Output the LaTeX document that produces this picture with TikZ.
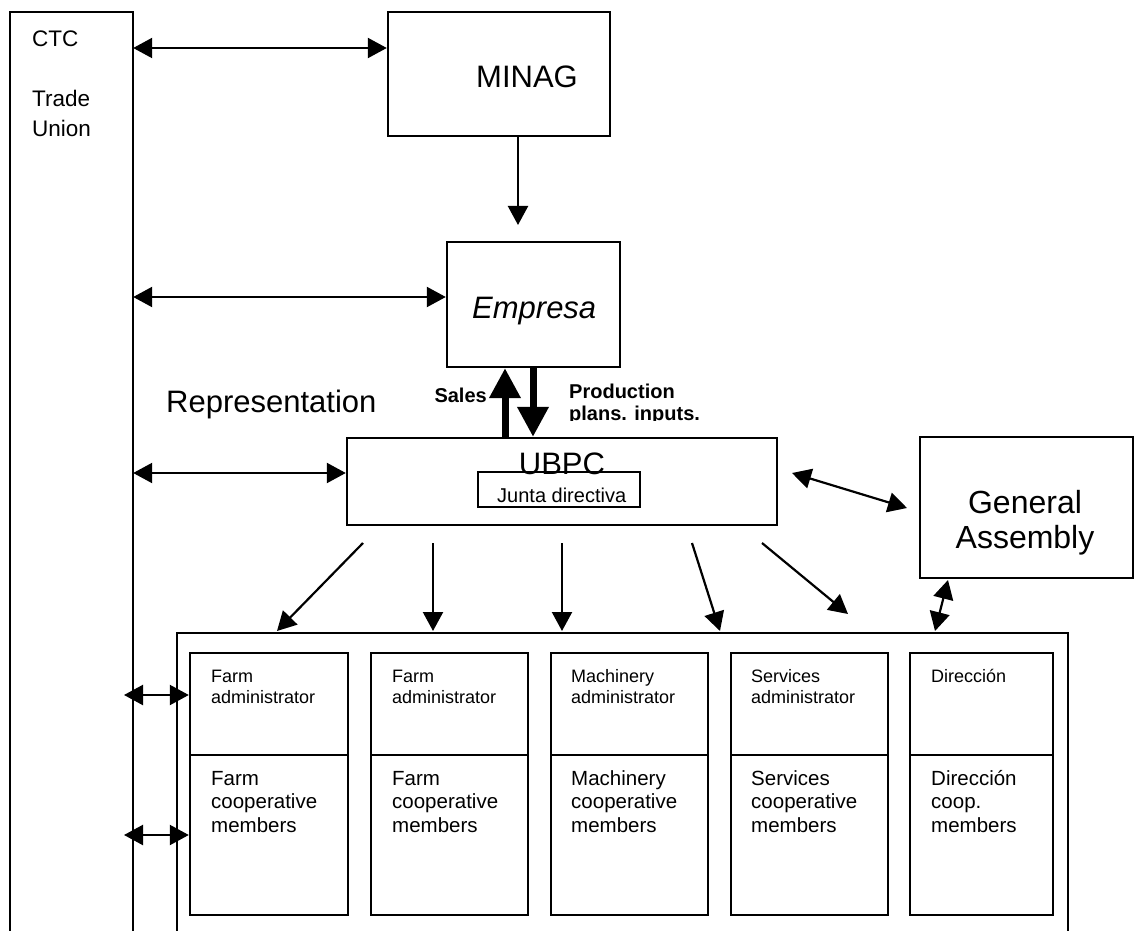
\documentclass[tikz,border=0pt]{standalone}
\usepackage{fontspec}
\setmainfont{Liberation Sans}
\usetikzlibrary{arrows.meta,fit}
\begin{document}
\begin{tikzpicture}[x=1pt,y=-1pt,
  box/.style={draw,line width=2.4pt,inner sep=0pt},
  frame/.style={line width=2.4pt},
  conn/.style={line width=2.2pt,-{Triangle[length=19pt,width=20pt]}},
  bi/.style={line width=2.2pt,{Triangle[length=19pt,width=20pt]}-{Triangle[length=19pt,width=20pt]}},
  heavy/.style={line width=7pt,-{Triangle[length=30pt,width=30pt]}},
  big/.style={font=\fontsize{31}{36}\selectfont,inner sep=0pt,anchor=base west},
  mid/.style={font=\fontsize{22.5}{30}\selectfont,inner sep=0pt,anchor=base west,align=left},
  lbl/.style={font=\fontsize{20}{22}\bfseries\selectfont,inner sep=0pt,align=left},
  small/.style={font=\fontsize{18}{21}\selectfont,inner sep=0pt,anchor=base west,align=left},
  memb/.style={font=\fontsize{20.5}{23.5}\selectfont,inner sep=0pt,anchor=base west,align=left}
]
\useasboundingbox (0,0) rectangle (1136,931);

% CTC column (open at the bottom)
\node[inner sep=0pt,fit={(10,12)(133,945)}] (ctc) {};
\draw[frame] (ctc.south west) -- (ctc.north west) -- (ctc.north east) -- (ctc.south east);
\node[mid] (ctct) at (32,47) {CTC};
\node[mid] (tu) at (32,137) {Trade\\Union};

% boxes
\node[box,fit={(388,12)(610,136)}] (minag) {};
\node[big] (minagt) at (476,88) {MINAG};
\node[box,fit={(447,242)(620,367)}] (empresa) {};
\node[big,font=\fontsize{31}{36}\selectfont\itshape] (empt) at (472,318) {Empresa};
\node[box,fit={(347,438)(777,525)}] (ubpc) {};
\node[font=\fontsize{31}{36}\selectfont,inner sep=0pt,anchor=base] (ubpct) at (562,474) {UBPC};
\node[box,fit={(478,472)(640,507)}] (junta) {};
\node[font=\fontsize{20}{22}\selectfont,inner sep=0pt,anchor=base west] (juntat) at (497,502) {Junta directiva};
\node[box,fit={(920,437)(1133,578)}] (ga) {};
\node[font=\fontsize{32}{35}\selectfont,inner sep=0pt,anchor=base,align=center] (gat) at (1025,548) {General\\Assembly};

\node[big] (rep) at (166,412) {Representation};
\node[lbl,anchor=base east] (sales) at (487,402) {Sales};
\begin{scope}
\clip (560,370) rectangle (760,420);
\node[lbl,anchor=base west] (prod) at (569,420) {Production\\plans. inputs.};
\end{scope}

% outer frame of the units (open at the bottom)
\node[inner sep=0pt,fit={(177,633)(1068,945)}] (units) {};
\draw[frame] (units.south west) -- (units.north west) -- (units.north east) -- (units.south east);

% unit boxes
\node[box,fit={(190,653)(348,755)}] (a1) {};
\node[box,fit={(190,755)(348,915)}] (m1) {};
\node[box,fit={(371,653)(528,755)}] (a2) {};
\node[box,fit={(371,755)(528,915)}] (m2) {};
\node[box,fit={(551,653)(708,755)}] (a3) {};
\node[box,fit={(551,755)(708,915)}] (m3) {};
\node[box,fit={(731,653)(888,755)}] (a4) {};
\node[box,fit={(731,755)(888,915)}] (m4) {};
\node[box,fit={(910,653)(1053,755)}] (a5) {};
\node[box,fit={(910,755)(1053,915)}] (m5) {};

\node[small] (a1t) at (211,703) {Farm\\administrator};
\node[small] (a2t) at (392,703) {Farm\\administrator};
\node[small] (a3t) at (571,703) {Machinery\\administrator};
\node[small] (a4t) at (751,703) {Services\\administrator};
\node[small] (a5t) at (931,682) {Dirección};
\node[memb] (m1t) at (211,832) {Farm\\cooperative\\members};
\node[memb] (m2t) at (392,832) {Farm\\cooperative\\members};
\node[memb] (m3t) at (571,832) {Machinery\\cooperative\\members};
\node[memb] (m4t) at (751,832) {Services\\cooperative\\members};
\node[memb] (m5t) at (931,832) {Dirección\\coop.\\members};

% helper coordinates
\coordinate (y48) at (0,48);
\coordinate (y297) at (0,297);
\coordinate (y473) at (0,473);
\coordinate (y695) at (0,695);
\coordinate (y835) at (0,835);
\coordinate (ctcl1) at (124,695);
\coordinate (ctcl2) at (124,835);
\coordinate (empin) at (518,225);
\coordinate (gaA) at (792,473);
\coordinate (gaB) at (907,508);
\coordinate (gaC) at (948,580);
\coordinate (gaD) at (935,631);
\coordinate (s1) at (363,543);  \coordinate (e1) at (277,631);
\coordinate (s2) at (433,543);  \coordinate (e2) at (433,631);
\coordinate (s3) at (562,543);  \coordinate (e3) at (562,631);
\coordinate (s4) at (692,543);  \coordinate (e4) at (720,631);
\coordinate (s5) at (762,543);  \coordinate (e5) at (848,614);
\coordinate (xs) at (505,0);
\coordinate (xp) at (533,0);

% connectors
\draw[bi] (ctc.east |- y48) -- (minag.west |- y48);
\draw[conn] (minag.south -| empin) -- (empin);
\draw[bi] (ctc.east |- y297) -- (empresa.west |- y297);
\draw[heavy] (ubpc.north -| xs) -- (empresa.south -| xs);
\draw[heavy] (empresa.south -| xp) -- (ubpc.north -| xp);
\draw[bi] (ctc.east |- y473) -- (ubpc.west |- y473);
\draw[bi] (gaA) -- (gaB);
\draw[bi] (gaC) -- (gaD);
\draw[conn] (s1) -- (e1);
\draw[conn] (s2) -- (e2);
\draw[conn] (s3) -- (e3);
\draw[conn] (s4) -- (e4);
\draw[conn] (s5) -- (e5);
\draw[bi] (ctcl1) -- (a1.west |- y695);
\draw[bi] (ctcl2) -- (m1.west |- y835);
\end{tikzpicture}
\end{document}
